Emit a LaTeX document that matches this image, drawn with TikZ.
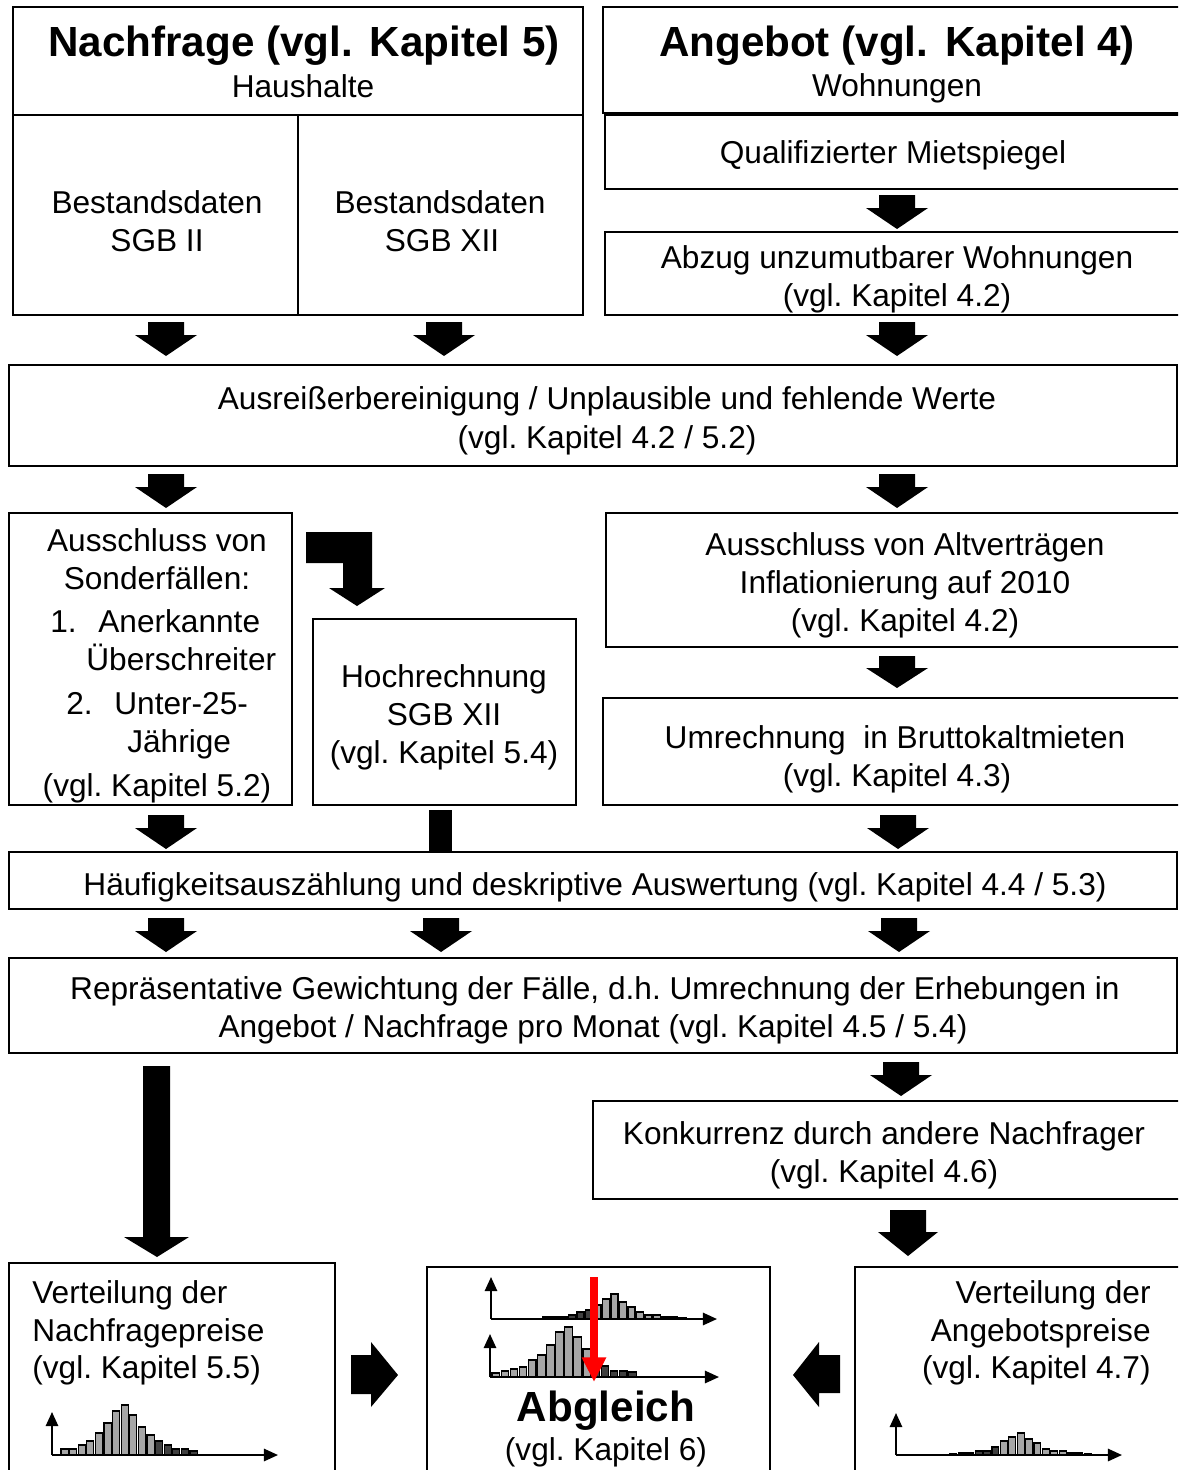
\documentclass[tikz,border=0pt]{standalone}
\usepackage{fontspec}
\setmainfont{Liberation Sans}
\usetikzlibrary{arrows.meta}
\colorlet{hg}{black!35}
\colorlet{hd}{black!75}
\tikzset{
  box/.style={draw=black, line width=1.1pt},
  txt/.style={inner sep=0pt, anchor=base, font=\fontsize{18}{21.6}\selectfont},
  ttl/.style={inner sep=0pt, anchor=base, font=\fontsize{24}{28}\selectfont\bfseries},
  axis/.style={line width=1.1pt, -{Triangle[width=7pt,length=8pt]}},
  blk/.style={fill=black}
}
\newcommand\dnarr[6]{% cx, top, bottom, shaft half, head half, head length
  \fill[blk] ({#1-#4},#2) -- ({#1+#4},#2) -- ({#1+#4},{#3-#6}) -- ({#1+#5},{#3-#6})
    -- (#1,#3) -- ({#1-#5},{#3-#6}) -- ({#1-#4},{#3-#6}) -- cycle;}
\newcommand\stdarr[2]{\dnarr{#1}{#2}{#2+34}{18}{31}{21}}
\newcommand\hbars[4]{% x0, base, width, list h/c
  \foreach \h/\c [count=\i from 0] in {#4} {%
    \draw[line width=0.6pt, fill=\c] ({#1+\i*#3},#2) rectangle ({#1+(\i+1)*#3-1.5},{#2-\h});}}
\begin{document}
\frenchspacing
\begin{tikzpicture}[x=0.02cm, y=-0.02cm]
\useasboundingbox (0,0) rectangle (1178,1470);
\clip (0,0) rectangle (1178,1470);
\fill[white] (0,0) rectangle (1178,1470);

% ---- top left
\draw[box] (13,7) rectangle (583,115);
\draw[box] (13,115) rectangle (298,315);
\draw[box] (298,115) rectangle (583,315);
\node[ttl] (nt) at (304,57) {Nachfrage (vgl.\hspace{0.12em} Kapitel 5)};
\node[txt] (nh) at (303,97) {Haushalte};
\node[txt] (b1a) at (157,213) {Bestandsdaten};
\node[txt] (b1b) at (157,251) {SGB II};
\node[txt] (b2a) at (440,213) {Bestandsdaten};
\node[txt] (b2b) at (442,251) {SGB XII};

% ---- top right
\draw[box] (603,7) rectangle (1190,113);
\draw[box] (605,115) rectangle (1190,189);
\draw[box] (605,232) rectangle (1190,315);
\node[ttl] (at) at (897,57) {Angebot (vgl.\hspace{0.12em} Kapitel 4)};
\node[txt] (aw) at (897,96) {Wohnungen};
\node[txt] (qm) at (893,163) {Qualifizierter Mietspiegel};
\node[txt] (ab1) at (897,268) {Abzug unzumutbarer Wohnungen};
\node[txt] (ab2) at (897,306) {(vgl. Kapitel 4.2)};
\stdarr{897}{195}

% ---- row arrows 1
\stdarr{166}{322}
\stdarr{444}{322}
\stdarr{897}{322}

% ---- Ausreisser
\draw[box] (9,365) rectangle (1177,466);
\node[txt] (au1) at (607,409) {Ausreißerbereinigung / Unplausible und fehlende Werte};
\node[txt] (au2) at (607,448) {(vgl. Kapitel 4.2 / 5.2)};

\stdarr{166}{474}
\stdarr{897}{474}

% ---- Sonderfaelle
\draw[box] (9,513) rectangle (292,805);
\node[txt] (s1) at (157,551) {Ausschluss von};
\node[txt] (s2) at (157,589) {Sonderfällen:};
\node[txt, anchor=base west] (s3a) at (50,632) {1.};
\node[txt, anchor=base west] (s3b) at (98,632) {Anerkannte};
\node[txt, anchor=base west] (s4) at (86,670) {Überschreiter};
\node[txt, anchor=base west] (s5a) at (66,714) {2.};
\node[txt, anchor=base west] (s5b) at (114,714) {Unter-25-};
\node[txt, anchor=base west] (s6) at (127,752) {Jährige};
\node[txt] (s7) at (157,796) {(vgl. Kapitel 5.2)};

% bent arrow
\fill[blk] (306,532) -- (372,532) -- (372,588) -- (385,588) -- (357,606) -- (329,588)
  -- (343,588) -- (343,563) -- (306,563) -- cycle;

% ---- Hochrechnung
\draw[box] (313,619) rectangle (576,805);
\node[txt] (h1) at (444,687) {Hochrechnung};
\node[txt] (h2) at (444,725) {SGB XII};
\node[txt] (h3) at (444,763) {(vgl. Kapitel 5.4)};

% ---- Altvertraege
\draw[box] (606,513) rectangle (1190,647);
\node[txt] (v1) at (905,555) {Ausschluss von Altverträgen};
\node[txt] (v2) at (905,593) {Inflationierung auf 2010};
\node[txt] (v3) at (905,631) {(vgl. Kapitel 4.2)};
\dnarr{897}{656}{688}{18}{31}{20}

% ---- Umrechnung
\draw[box] (603,698) rectangle (1190,805);
\node[txt] (u1) at (895,748) {Umrechnung\ \ in Bruttokaltmieten};
\node[txt] (u2) at (897,786) {(vgl. Kapitel 4.3)};

% ---- arrows to Haeufigkeit
\stdarr{166}{815}
\stdarr{898}{815}
\fill[blk] (429,810) rectangle (452,853);

% ---- Haeufigkeit
\draw[box] (9,852) rectangle (1177,909);
\node[txt] (hf) at (595,895) {Häufigkeitsauszählung und deskriptive Auswertung (vgl. Kapitel 4.4 / 5.3)};

\stdarr{166}{918}
\stdarr{441}{918}
\stdarr{899}{918}

% ---- Repraesentative
\draw[box] (9,958) rectangle (1177,1053);
\node[txt] (r1) at (595,999) {Repräsentative Gewichtung der Fälle, d.h. Umrechnung der Erhebungen in};
\node[txt] (r2) at (593,1037) {Angebot / Nachfrage pro Monat (vgl. Kapitel 4.5 / 5.4)};

% long arrow
\fill[blk] (143,1066) -- (170,1066) -- (170,1237) -- (189,1237) -- (157,1257) -- (124,1237)
  -- (143,1237) -- cycle;
\stdarr{901}{1062}

% ---- Konkurrenz
\draw[box] (593,1101) rectangle (1190,1199);
\node[txt] (k1) at (884,1144) {Konkurrenz durch andere Nachfrager};
\node[txt] (k2) at (884,1182) {(vgl. Kapitel 4.6)};
\dnarr{908}{1210}{1256}{18}{30}{24}

% ---- bottom boxes
\draw[box] (9,1263) rectangle (335,1490);
\node[txt, anchor=base west] (n1) at (32,1303) {Verteilung der};
\node[txt, anchor=base west] (n2) at (32,1341) {Nachfragepreise};
\node[txt, anchor=base west] (n3) at (32,1378) {(vgl. Kapitel 5.5)};

\draw[box] (427,1267) rectangle (770,1490);
\node[ttl] (ag1) at (606,1421) {Abgleich};
\node[txt] (ag2) at (606,1460) {(vgl. Kapitel 6)};

\draw[box] (855,1267) rectangle (1190,1490);
\node[txt, anchor=base east] (p1) at (1151,1303) {Verteilung der};
\node[txt, anchor=base east] (p2) at (1151,1341) {Angebotspreise};
\node[txt, anchor=base east] (p3) at (1151,1378) {(vgl. Kapitel 4.7)};

% side arrows
\fill[blk] (351,1355) -- (371,1355) -- (371,1342) -- (398,1375) -- (371,1407) -- (371,1394)
  -- (351,1394) -- cycle;
\fill[blk] (840,1355) -- (819,1355) -- (819,1342) -- (793,1375) -- (819,1407) -- (819,1393)
  -- (840,1393) -- cycle;

% ---- histograms
% left
\hbars{61}{1455}{8.6}{6/hg,6/hg,10/hg,14/hg,22/hg,32/hg,44/hg,50/hg,40/hg,28/hg,20/hg,14/hd,10/hd,6/hd,6/hd,4/hd}
\draw[axis] (52,1455) -- (52,1412);
\draw[axis] (52,1455) -- (278,1455);
% right
\hbars{950}{1455}{8.4}{1/hd,2/hd,2/hd,4/hd,4/hd,8/hd,14/hg,18/hg,22/hg,16/hg,12/hg,6/hg,4/hg,4/hg,2/hg,2/hg,1/hg}
\draw[axis] (896,1455) -- (896,1413);
\draw[axis] (896,1455) -- (1122,1455);
% Abgleich top
\hbars{543}{1319}{8.5}{2/hd,2/hd,2/hd,4/hd,7/hd,9/hd,14/hg,20/hg,25/hg,17/hg,12/hg,7/hg,4/hg,4/hg,2/hg,2/hg,1/hg}
\draw[axis] (491,1319) -- (491,1277);
\draw[axis] (491,1319) -- (717,1319);
% Abgleich bottom
\hbars{492}{1377}{9.1}{4/hg,6/hg,8/hg,10/hg,17/hg,22/hg,32/hg,45/hg,50/hg,40/hg,28/hg,17/hd,11/hd,6/hd,6/hd,5/hd}
\draw[axis] (490,1377) -- (490,1334);
\draw[axis] (490,1377) -- (719,1377);
% red arrow
\draw[red, line width=4pt, -{Triangle[width=13pt,length=14pt]}] (594,1277) -- (594,1382);
\end{tikzpicture}
\end{document}
